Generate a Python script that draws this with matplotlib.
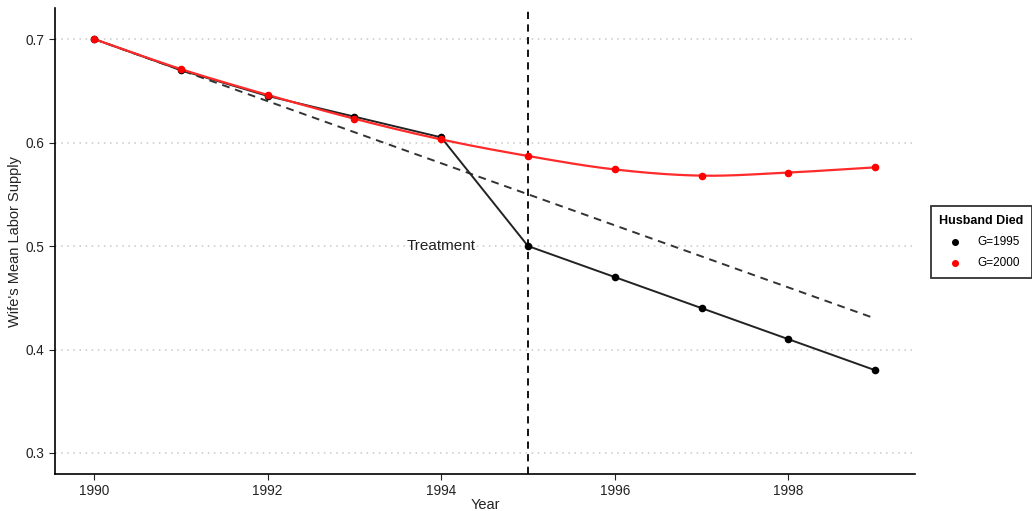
import matplotlib.pyplot as plt
import numpy as np

plt.rcParams['font.family'] = ['Liberation Sans', 'DejaVu Sans']

years = [1990, 1991, 1992, 1993, 1994, 1995, 1996, 1997, 1998, 1999]
g1995 = [0.700, 0.670, 0.645, 0.625, 0.605, 0.500, 0.470, 0.440, 0.410, 0.380]
g2000 = [0.700, 0.671, 0.646, 0.623, 0.603, 0.587, 0.574, 0.568, 0.571, 0.576]
counterfactual_years = [1990, 1999]
counterfactual = [0.700, 0.430]
treat_year = 1995

fig = plt.figure(figsize=(10.32, 5.11), dpi=100)
ax = fig.add_axes([55/1032, 1 - 474/511, 860/1032, 466/511])

ax.set_xlim(1989.55, 1999.46)
ax.set_ylim(0.2797, 0.730)

for y in [0.3, 0.4, 0.5, 0.6, 0.7]:
    ax.axhline(y, color='#c8c8c8', lw=1.1, ls=(0, (1, 3)), zorder=0)

# smooth red curve through the points (cubic hermite)
t = np.array(years, dtype=float)
v = np.array(g2000)
tt = np.linspace(t[0], t[-1], 300)
d = np.gradient(v, t)
vv = np.empty_like(tt)
for k, x in enumerate(tt):
    i = min(int(x - t[0]), len(t) - 2)
    h = x - t[i]
    h00 = 2*h**3 - 3*h**2 + 1
    h10 = h**3 - 2*h**2 + h
    h01 = -2*h**3 + 3*h**2
    h11 = h**3 - h**2
    vv[k] = h00*v[i] + h10*d[i] + h01*v[i+1] + h11*d[i+1]

ax.plot(counterfactual_years, counterfactual, color='#333333', lw=1.4, ls=(0, (4, 3)), zorder=2)
ax.plot(years, g1995, color='#222222', lw=1.4, zorder=3)
ax.plot(tt, vv, color='#ff2a2a', lw=1.6, zorder=4)
ax.scatter(years, g1995, color='black', s=20, zorder=5, label='G=1995')
ax.scatter(years, g2000, color='red', s=20, zorder=6, label='G=2000')
ax.axvline(treat_year, color='black', lw=1.3, ls=(0, (4, 3)), zorder=3)
ax.text(1994.0, 0.50, 'Treatment', ha='center', va='center', fontsize=11, color='#222222')

for s in ['top', 'right']:
    ax.spines[s].set_visible(False)
for s in ['left', 'bottom']:
    ax.spines[s].set_linewidth(1.2)

ax.set_xticks([1990, 1992, 1994, 1996, 1998])
ax.set_yticks([0.3, 0.4, 0.5, 0.6, 0.7])
ax.set_yticklabels(['0.3', '0.4', '0.5', '0.6', '0.7'])
ax.tick_params(labelsize=9.8, colors='#222222', length=4)
ax.set_xlabel('Year', fontsize=10.5, color='#222222', labelpad=0)
ax.set_ylabel("Wife's Mean Labor Supply", fontsize=10.5, color='#222222', labelpad=3)

leg = fig.legend(loc='center left', bbox_to_anchor=(931/1032, 1 - 242/511),
                 title='Husband Died', fontsize=8.5, title_fontsize=9,
                 frameon=True, fancybox=False, edgecolor='black',
                 handletextpad=0.9, markerscale=0.9, borderpad=0.7,
                 labelspacing=0.8, borderaxespad=0)
leg.get_title().set_fontweight('bold')
leg.get_frame().set_linewidth(1.3)

fig.savefig('out.png', dpi=100)
